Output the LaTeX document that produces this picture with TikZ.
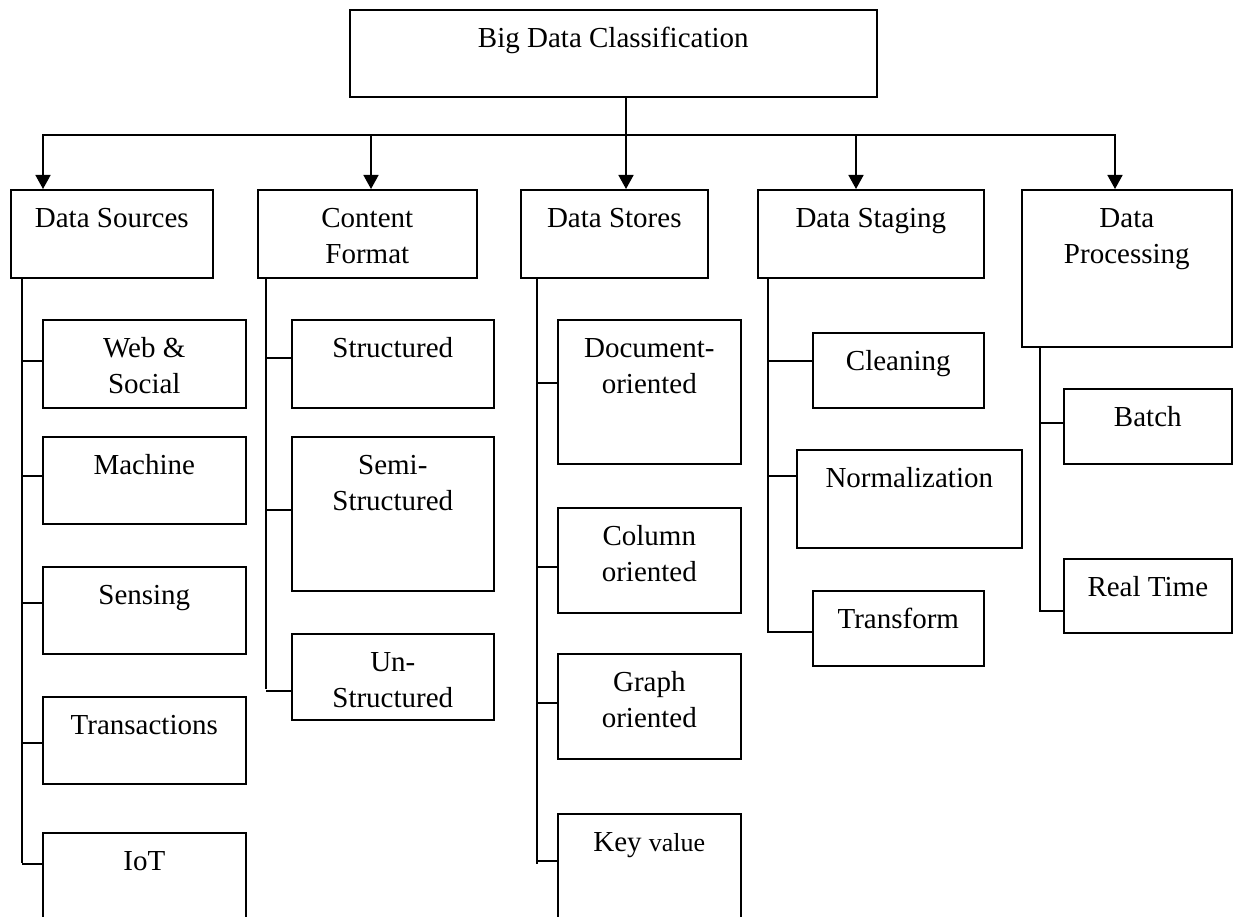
\documentclass[tikz,border=0pt]{standalone}
\usepackage{fontspec}
\setmainfont{Liberation Serif}
\usetikzlibrary{arrows.meta}

% box content: width, height, text (first baseline 38pt below the top edge)
\newcommand\cellbox[3]{\parbox[c][#2][t]{#1}{\centering\vspace*{12.8pt}\strut #3\par}}

\tikzset{
  bx/.style={draw, line width=1.6pt, inner sep=0pt, anchor=north west,
             font=\fontsize{29}{36}\selectfont},
  ln/.style={line width=1.6pt},
  arr/.style={line width=1.6pt, -{Triangle[length=14pt,width=15pt]}},
}

\begin{document}
\begin{tikzpicture}[x=1pt,y=-1pt]
\useasboundingbox (0,0) rectangle (1233,917);
\clip (0,0) rectangle (1233,917);

% root
\node[bx] (top) at (349,9) {\cellbox{527pt}{87pt}{Big Data Classification}};

% categories
\node[bx] (ds)  at (10,189)   {\cellbox{202pt}{88pt}{Data Sources}};
\node[bx] (cf)  at (257,189)  {\cellbox{219pt}{88pt}{Content\\Format}};
\node[bx] (dst) at (520,189)  {\cellbox{187pt}{88pt}{Data Stores}};
\node[bx] (dsg) at (757,189)  {\cellbox{226pt}{88pt}{Data Staging}};
\node[bx] (dp)  at (1021,189) {\cellbox{210pt}{157pt}{Data\\Processing}};

% data sources
\node[bx] (ws)  at (42,319) {\cellbox{203pt}{88pt}{Web \&\\Social}};
\node[bx] (mc)  at (42,436) {\cellbox{203pt}{87pt}{Machine}};
\node[bx] (se)  at (42,566) {\cellbox{203pt}{87pt}{Sensing}};
\node[bx] (tr)  at (42,696) {\cellbox{203pt}{87pt}{Transactions}};
\node[bx] (iot) at (42,832) {\cellbox{203pt}{120pt}{IoT}};

% content format
\node[bx] (st) at (291,319) {\cellbox{202pt}{88pt}{Structured}};
\node[bx] (ss) at (291,436) {\cellbox{202pt}{154pt}{Semi-\\Structured}};
\node[bx] (us) at (291,633) {\cellbox{202pt}{86pt}{Un-\\Structured}};

% data stores
\node[bx] (doc) at (557,319) {\cellbox{183pt}{144pt}{Document-\\oriented}};
\node[bx] (col) at (557,507) {\cellbox{183pt}{105pt}{Column\\oriented}};
\node[bx] (gr)  at (557,653) {\cellbox{183pt}{105pt}{Graph\\oriented}};
\node[bx] (kv)  at (557,813) {\cellbox{183pt}{140pt}{Key {\fontsize{26}{36}\selectfont value}}};

% data staging
\node[bx] (cl) at (812,332) {\cellbox{171pt}{75pt}{Cleaning}};
\node[bx] (no) at (796,449) {\cellbox{225pt}{98pt}{Normalization}};
\node[bx] (tf) at (812,590) {\cellbox{171pt}{75pt}{Transform}};

% data processing
\node[bx] (ba) at (1063,388) {\cellbox{168pt}{75pt}{Batch}};
\node[bx] (rt) at (1063,558) {\cellbox{168pt}{74pt}{Real Time}};

% distribution bus
\coordinate (b1) at (43,135);
\coordinate (b2) at (371,135);
\coordinate (b3) at (626,135);
\coordinate (b4) at (856,135);
\coordinate (b5) at (1115,135);
\draw[arr] (b3) -- (b1) -- (b1 |- ds.north);
\draw[arr] (b3) -- (b5) -- (b5 |- dp.north);
\draw[arr] (b2) -- (b2 |- cf.north);
\draw[arr] (b4) -- (b4 |- dsg.north);
\draw[arr] (top.south -| b3) -- (b3 |- dst.north);

% trunks
\coordinate (ds-top)  at (22,277);   \coordinate (ds-end)  at (22,863);
\coordinate (cf-top)  at (266,277);  \coordinate (cf-end)  at (266,689);
\coordinate (dst-top) at (537,277);  \coordinate (dst-end) at (537,864);
\coordinate (dsg-top) at (768,277);
\coordinate (dp-top)  at (1040,346);
\draw[ln] (ds-top) -- (ds-end);
\draw[ln] (cf-top) -- (cf-end);
\draw[ln] (dst-top) -- (dst-end);

% branch points on the child boxes
\foreach \n/\d in {ws/42, mc/40, se/37, tr/47, iot/32,
                   st/39, ss/74, us/58,
                   doc/64, col/60, gr/50, kv/48,
                   cl/29, no/27, tf/42, ba/35, rt/53}
  \coordinate (\n-in) at ([yshift=-\d pt]\n.north west);

% branches
\foreach \n/\t in {ws/ds, mc/ds, se/ds, tr/ds, iot/ds,
                   st/cf, ss/cf, us/cf,
                   doc/dst, col/dst, gr/dst, kv/dst,
                   cl/dsg, no/dsg, ba/dp}
  \draw[ln] (\n-in -| \t-top) -- (\n-in);
\draw[ln] (dsg-top) -- (tf-in -| dsg-top) -- (tf-in);
\draw[ln] (dp-top) -- (rt-in -| dp-top) -- (rt-in);
\end{tikzpicture}
\end{document}
